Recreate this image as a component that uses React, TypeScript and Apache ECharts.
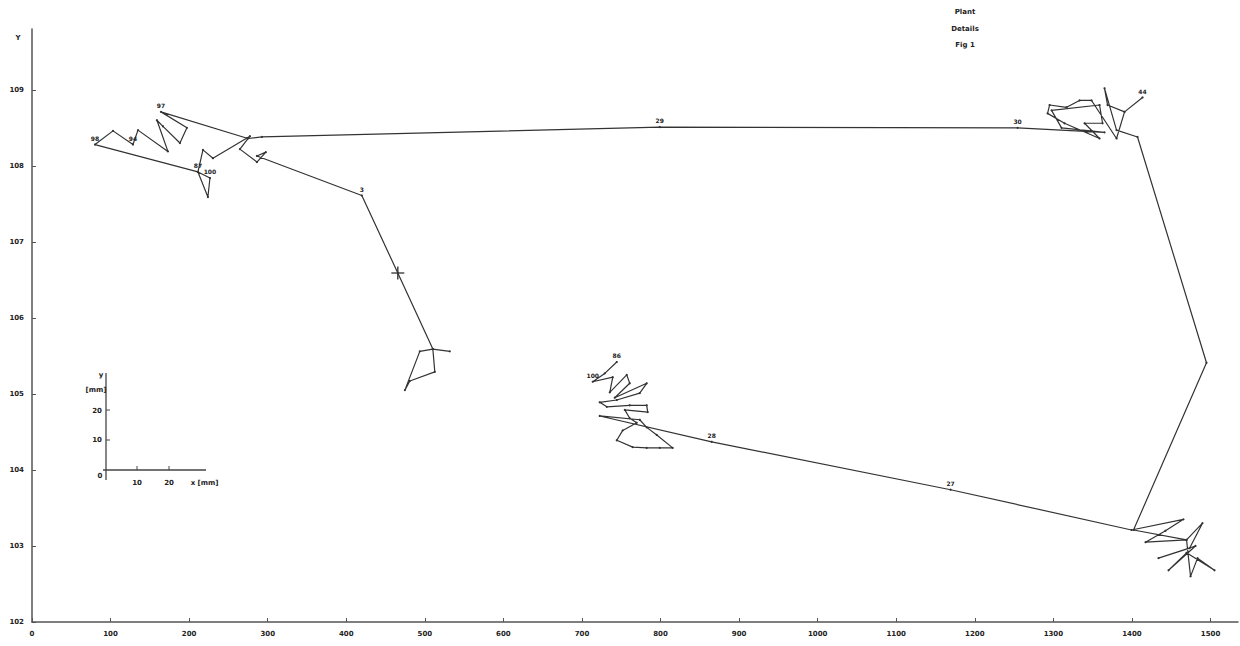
import React, { useEffect, useRef } from "react";
import * as echarts from "echarts";

// Track points in data units (x, y), one continuous path
const trackX: number[] = [
  744.3, 729.0, 713.7, 739.2, 735.4, 757.0, 760.8, 741.7, 782.4, 773.5,
  744.3, 722.6, 731.6, 760.8, 782.4, 783.7, 754.5, 760.8, 769.7, 751.9,
  744.3, 764.6, 782.4, 799.0, 815.5, 795.2, 782.4, 773.5, 722.6, 865.1,
  1169.2, 1399.5,
  1465.6, 1442.7, 1417.3, 1469.5, 1489.8, 1473.3, 1433.8, 1480.9, 1446.6,
  1469.5, 1505.1, 1483.5, 1474.6, 1469.5, 1402.0, 1494.9, 1407.1,
  1380.4, 1365.1, 1369.0, 1390.6, 1413.5, 1390.6, 1380.4, 1348.6, 1333.3,
  1316.8, 1295.2, 1292.6, 1314.2, 1358.8, 1339.7, 1362.6, 1358.8, 1297.7,
  1310.4, 1365.1, 1254.5, 799.0, 292.6,
  274.8, 164.1, 197.2, 188.3, 166.7, 159.0, 173.0, 134.9, 128.5, 103.1,
  80.2, 211.2, 226.5, 223.9, 211.2, 217.6, 230.3, 277.4, 264.6, 286.3,
  297.7, 286.3, 419.8, 465.6, 510.2, 493.6, 474.6, 480.9, 512.7, 510.2, 531.8,
];
const trackY: number[] = [
  105.42, 105.27, 105.16, 105.22, 105.02, 105.25, 105.14, 104.95, 105.14, 105.01,
  104.92, 104.89, 104.83, 104.85, 104.85, 104.76, 104.79, 104.68, 104.62, 104.52,
  104.39, 104.30, 104.29, 104.29, 104.29, 104.46, 104.56, 104.66, 104.71, 104.37,
  103.74, 103.21,
  103.35, 103.20, 103.05, 103.08, 103.30, 102.97, 102.84, 103.00, 102.68,
  102.91, 102.68, 102.84, 102.60, 103.08, 103.21, 105.41, 108.38,
  108.47, 109.02, 108.80, 108.71, 108.90, 108.71, 108.36, 108.86, 108.86,
  108.77, 108.80, 108.69, 108.56, 108.36, 108.56, 108.56, 108.80, 108.73,
  108.50, 108.44, 108.50, 108.51, 108.38,
  108.36, 108.71, 108.50, 108.30, 108.52, 108.60, 108.19, 108.47, 108.28, 108.46,
  108.28, 107.92, 107.84, 107.59, 107.92, 108.21, 108.10, 108.39, 108.22, 108.05,
  108.18, 108.13, 107.61, 106.59, 105.59, 105.56, 105.05, 105.17, 105.29, 105.59, 105.56,
];
// point labels (empty = no label)
const trackLabels: string[] = [
  "86", "", "100", "", "", "", "", "", "", "",
  "", "", "", "", "", "", "", "", "", "",
  "", "", "", "", "", "", "", "", "", "28",
  "27", "", 
  "", "", "", "", "", "", "", "", "",
  "", "", "", "", "", "", "", "",
  "", "", "", "", "44", "", "", "", "",
  "", "", "", "", "", "", "", "", "",
  "", "", "30", "29", "",
  "", "97", "", "", "", "", "", "", "94", "",
  "98", "87", "100", "", "", "", "", "", "", "",
  "", "", "3", "", "", "", "", "", "", "", "",
];

const crossX: number[] = [465.6];
const crossY: number[] = [106.59];

const xMin = 0;
const xMax = 1535;
const xStep = 100;
const yMin = 102;
const yMax = 109.8;
const yStep = 1;

const titleLines: string[] = ["Plant", "Details", "Fig 1"];

export default function App() {
  const ref = useRef<HTMLDivElement>(null);
  useEffect(() => {
    if (!ref.current) return;
    const chart = echarts.init(ref.current, undefined, { renderer: "svg" });
    const labelStyle = {
      position: "top" as const,
      distance: 2,
      fontSize: 6,
      fontWeight: "bold" as const,
      color: "#222",
      fontFamily: "DejaVu Sans",
    };
    const trackData = trackX.map((x, i) => ({
      value: [x, trackY[i]],
      label: { ...labelStyle, show: trackLabels[i] !== "", formatter: trackLabels[i] },
    }));
    const ink = "#333";
    const axisCommon = {
      axisLine: { show: true, lineStyle: { color: "#555", width: 1.5 } },
      axisTick: { show: true, inside: true, length: 4, lineStyle: { color: "#555" } },
      splitLine: { show: false },
      axisLabel: {
        color: "#222",
        fontSize: 7,
        fontWeight: "bold" as const,
        fontFamily: "DejaVu Sans",
        showMaxLabel: false,
        showMinLabel: true,
        margin: 8,
        formatter: (v: number) => String(v),
      },
    };
    const txt = (x: number, y: number, text: string, align = "center") => ({
      type: "text",
      x,
      y,
      style: {
        text,
        fill: "#222",
        font: "bold 7px DejaVu Sans",
        align,
        verticalAlign: "middle",
      },
    });
    const ln = (x1: number, y1: number, x2: number, y2: number, w = 1.3) => ({
      type: "line",
      shape: { x1, y1, x2, y2 },
      style: { stroke: "#444", lineWidth: w },
    });
    chart.setOption({
      animation: false,
      backgroundColor: "#fff",
      grid: { left: 32, right: 2, top: 29, bottom: 24, containLabel: false },
      xAxis: {
        type: "value",
        min: xMin,
        max: xMax,
        interval: xStep,
        ...axisCommon,
      },
      yAxis: {
        type: "value",
        min: yMin,
        max: yMax,
        interval: yStep,
        ...axisCommon,
      },
      series: [
        {
          type: "line",
          data: trackData,
          symbol: "circle",
          symbolSize: 2.2,
          showSymbol: true,
          itemStyle: { color: ink },
          lineStyle: { color: ink, width: 1.2 },
          label: labelStyle,
        },
        {
          type: "scatter",
          data: crossX.map((x, i) => [x, crossY[i]]),
          symbol: "path://M0,4.4H10V5.6H0Z M4.4,0H5.6V10H4.4Z",
          symbolSize: 13,
          itemStyle: { color: "#222" },
        },
      ],
      graphic: [
        txt(18, 38, "Y"),
        txt(965, 12, titleLines[0]),
        txt(965, 29, titleLines[1]),
        txt(965, 45, titleLines[2]),
        // inset scale
        ln(106, 373, 106, 480),
        ln(103, 470, 206, 470),
        ln(137, 466, 137, 470, 1),
        ln(169, 466, 169, 470, 1),
        ln(106, 410, 110, 410, 1),
        ln(106, 440, 110, 440, 1),
        txt(137, 483, "10"),
        txt(169, 483, "20"),
        txt(193, 483, "x"),
        txt(208, 483, "[mm]"),
        txt(100, 476, "0"),
        txt(97, 440, "10"),
        txt(97, 411, "20"),
        txt(96, 390, "[mm]"),
        txt(101, 375, "y"),
      ],
    });
    return () => chart.dispose();
  }, []);
  return (
    <div
      ref={ref}
      style={{ position: "absolute", left: 0, top: 0, width: 1240, height: 646 }}
    />
  );
}
